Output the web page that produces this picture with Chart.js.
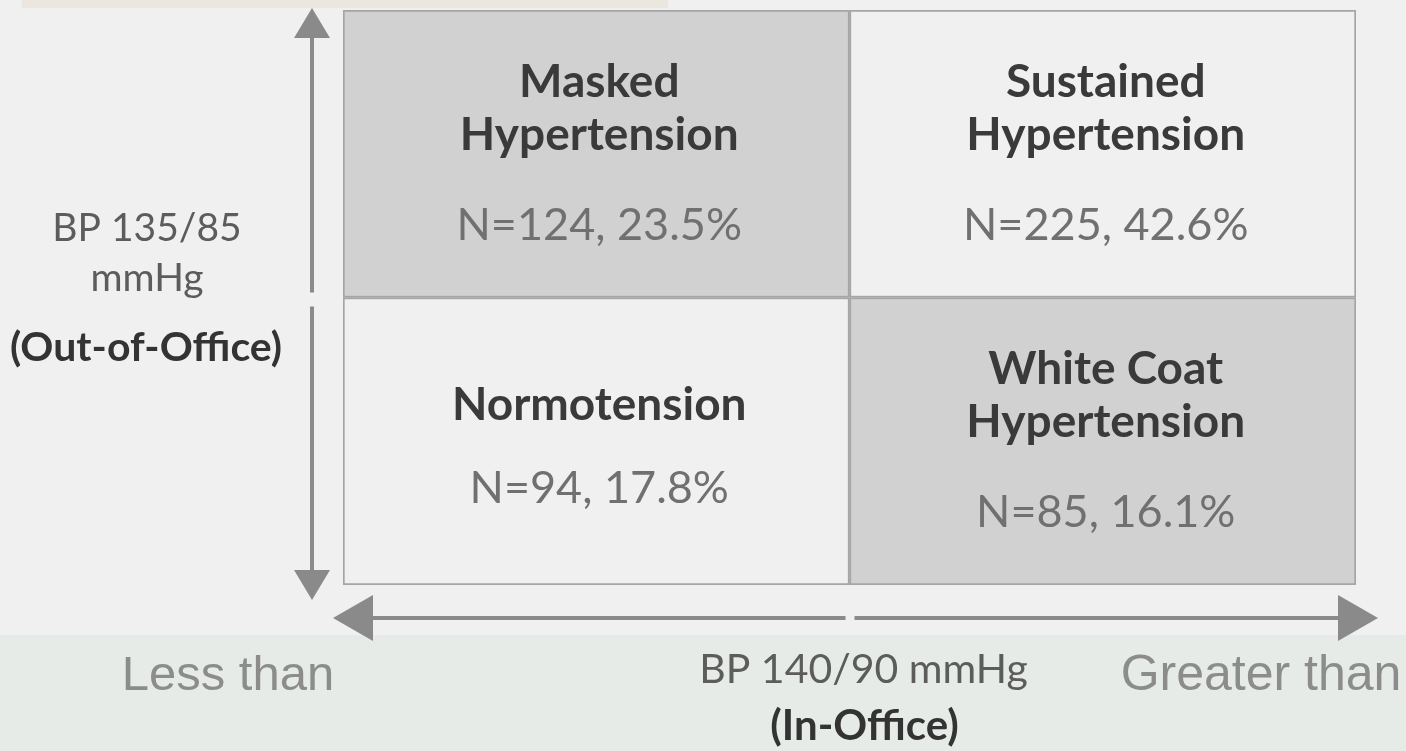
<!DOCTYPE html>
<html>
<head>
<meta charset="utf-8">
<script src="https://cdn.jsdelivr.net/npm/chart.js@4/dist/chart.umd.min.js"></script>
<style>
  html, body { margin: 0; padding: 0; background: #f0f0f0; }
  canvas { display: block; }
</style>
</head>
<body>
<canvas id="bpChart" width="1406" height="751"></canvas>
<script>
"use strict";

// in-office BP (x) and out-of-office BP (y) levels
const inOfficeLevels = ['Less than', 'Greater than'];
const outOfficeLevels = ['Less than', 'Greater than'];

// lower row = out-of-office less than, upper row = greater than
const lowerNames = [['Normotension'], ['White Coat', 'Hypertension']];
const upperNames = [['Masked', 'Hypertension'], ['Sustained', 'Hypertension']];
const lowerN = [94, 85];
const lowerPct = [17.8, 16.1];
const upperN = [124, 225];
const upperPct = [23.5, 42.6];

const xTitle = ['BP 140/90 mmHg', '(In-Office)'];
const yTitle = ['BP 135/85', 'mmHg', '(Out-of-Office)'];

const LIGHT = '#f0f0f0';
const DARK = '#d1d1d1';
const ARROW = '#8a8a8a';

function arrowHead(ctx, tx, ty, dx, dy, len, half) {
    // dx,dy = unit direction the arrow points to
    let bx = tx - dx * len, by = ty - dy * len;
    ctx.beginPath();
    ctx.moveTo(tx, ty);
    ctx.lineTo(bx - dy * half, by + dx * half);
    ctx.lineTo(bx + dy * half, by - dx * half);
    ctx.closePath();
    ctx.fill();
}

const backdrop = {
    id: 'backdrop',
    beforeDraw(chart) {
        let ctx = chart.ctx;
        ctx.save();
        ctx.fillStyle = '#f0f0f0';
        ctx.fillRect(0, 0, chart.width, chart.height);
        ctx.fillStyle = '#e6ebe7';
        ctx.fillRect(0, 635, chart.width, chart.height - 635);
        ctx.fillStyle = '#ebe6de';
        ctx.fillRect(22, 0, 646, 8);
        ctx.restore();
    }
};

const quadrantText = {
    id: 'quadrantText',
    afterDatasetsDraw(chart) {
        let ctx = chart.ctx;
        let xs = chart.scales.x, ys = chart.scales.y;
        let area = chart.chartArea;
        ctx.save();
        ctx.textAlign = 'center';
        ctx.textBaseline = 'alphabetic';

        function cell(names, n, pct, col, row) {
            let cx = xs.getPixelForValue(col) + 3;
            let cy = ys.getPixelForValue(row + 0.5);
            let y = names.length > 1 ? cy - 57 : cy - 21;
            ctx.fillStyle = '#3a3a3a';
            ctx.font = 'bold 46px Lato';
            names.forEach(function(line, i) {
                ctx.fillText(line, cx, y + i * 53);
            });
            let last = y + (names.length - 1) * 53;
            ctx.fillStyle = '#707070';
            ctx.font = '45px Lato';
            ctx.fillText('N=' + n + ', ' + pct.toFixed(1) + '%', cx, last + (names.length > 1 ? 90 : 83));
        }
        for (let i = 0; i < inOfficeLevels.length; i++) {
            cell(lowerNames[i], lowerN[i], lowerPct[i], i, 0);
            cell(upperNames[i], upperN[i], upperPct[i], i, 1);
        }

        // arrows
        let midY = ys.getPixelForValue(1);
        let midX = (xs.getPixelForValue(0) + xs.getPixelForValue(1)) / 2;
        let ax = area.left - 31;
        let ay = area.bottom + 33;
        ctx.strokeStyle = ARROW;
        ctx.fillStyle = ARROW;
        ctx.lineWidth = 4;
        ctx.beginPath();
        ctx.moveTo(ax, area.top + 20); ctx.lineTo(ax, midY - 5);
        ctx.moveTo(ax, midY + 9); ctx.lineTo(ax, area.bottom);
        ctx.moveTo(area.left + 10, ay); ctx.lineTo(midX - 4, ay);
        ctx.moveTo(midX + 5, ay); ctx.lineTo(area.right, ay);
        ctx.stroke();
        arrowHead(ctx, ax, area.top - 2, 0, -1, 30, 18);
        arrowHead(ctx, ax, area.bottom + 15, 0, 1, 30, 18);
        arrowHead(ctx, area.left - 10, ay, -1, 0, 40, 23);
        arrowHead(ctx, area.right + 22, ay, 1, 0, 40, 23);

        // y axis title
        let ly = midY;
        ctx.fillStyle = '#5c5c5c';
        ctx.font = '39px Lato';
        ctx.fillText(yTitle[0], 147, ly - 57);
        ctx.fillText(yTitle[1], 147, ly - 7);
        ctx.fillStyle = '#333333';
        ctx.font = 'bold 41px Lato';
        ctx.fillText(yTitle[2], 146, ly + 63);

        // x axis title
        ctx.fillStyle = '#5c5c5c';
        ctx.font = '41px Lato';
        ctx.fillText(xTitle[0], midX + 14, 683);
        ctx.fillStyle = '#333333';
        ctx.font = 'bold 42px Lato';
        ctx.fillText(xTitle[1], midX + 15, 740);

        // level labels
        ctx.fillStyle = '#8c8c8c';
        ctx.font = '49px "Liberation Sans"';
        ctx.fillText(inOfficeLevels[0], 228, 690);
        ctx.font = '50px "Liberation Sans"';
        ctx.fillText(inOfficeLevels[1], 1261, 690);
        ctx.restore();
    }
};

let chart = new Chart(document.getElementById('bpChart'), {
    type: 'bar',
    data: {
        labels: inOfficeLevels,
        datasets: [{
            label: outOfficeLevels[0],
            data: inOfficeLevels.map(() => 1),
            backgroundColor: [LIGHT, DARK],
            borderColor: '#a5a5a5',
            borderWidth: 2,
            borderSkipped: false
        }, {
            label: outOfficeLevels[1],
            data: inOfficeLevels.map(() => 1),
            backgroundColor: [DARK, LIGHT],
            borderColor: '#a5a5a5',
            borderWidth: 2,
            borderSkipped: false
        }]
    },
    options: {
        responsive: false,
        animation: false,
        devicePixelRatio: 1,
        layout: { padding: { left: 343, right: 50, top: 10, bottom: 166 } },
        datasets: { bar: { barPercentage: 1, categoryPercentage: 1 } },
        scales: {
            x: { stacked: true, display: false },
            y: { stacked: true, display: false, min: 0, max: 2 }
        },
        plugins: {
            legend: { display: false },
            tooltip: { enabled: false }
        }
    },
    plugins: [backdrop, quadrantText]
});
</script>
</body>
</html>
